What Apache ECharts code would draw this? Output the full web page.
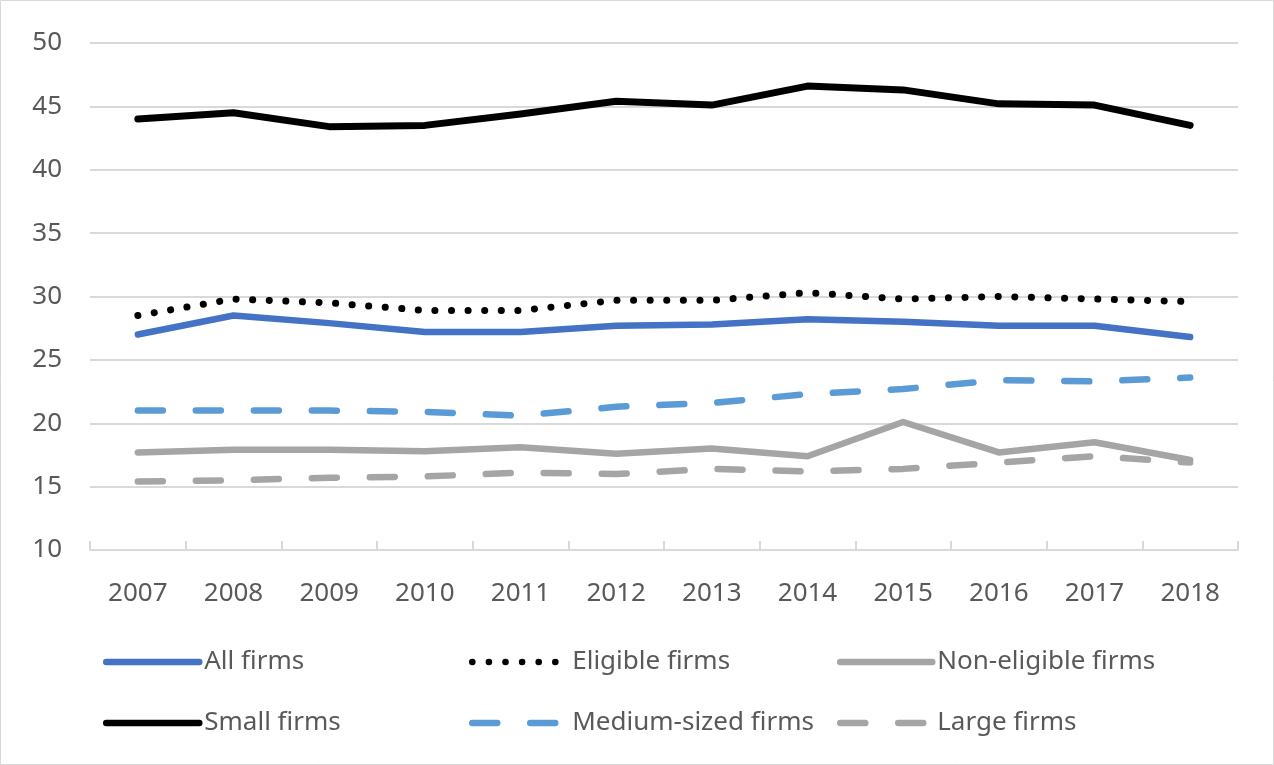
<!DOCTYPE html>
<html>
<head>
<meta charset="utf-8">
<title>Firm shares 2007-2018</title>
<script src="https://cdn.jsdelivr.net/npm/echarts@6/dist/echarts.min.js"></script>
<style>
  html, body { margin: 0; padding: 0; background: #fff; }
  #chart { width: 1274px; height: 765px; }
</style>
</head>
<body>
<div id="chart"></div>
<script>
// Years on the horizontal axis
const years = ['2007', '2008', '2009', '2010', '2011', '2012', '2013', '2014', '2015', '2016', '2017', '2018'];

// Series values by year
const allFirms         = [27.0, 28.5, 27.9, 27.2, 27.2, 27.7, 27.8, 28.2, 28.0, 27.7, 27.7, 26.8];
const eligibleFirms    = [28.5, 29.8, 29.5, 28.9, 28.9, 29.7, 29.7, 30.3, 29.8, 30.0, 29.8, 29.6];
const nonEligibleFirms = [17.7, 17.9, 17.9, 17.8, 18.1, 17.6, 18.0, 17.4, 20.1, 17.7, 18.5, 17.1];
const smallFirms       = [44.0, 44.5, 43.4, 43.5, 44.4, 45.4, 45.1, 46.6, 46.3, 45.2, 45.1, 43.5];
const mediumFirms      = [21.0, 21.0, 21.0, 20.9, 20.6, 21.3, 21.6, 22.3, 22.7, 23.4, 23.3, 23.6];
const largeFirms       = [15.4, 15.5, 15.7, 15.8, 16.1, 16.0, 16.4, 16.2, 16.4, 16.9, 17.4, 16.9];

// Value axis range
const yMin = 10, yMax = 50, yStep = 5;

const FONT = '"Noto Sans", "Open Sans", sans-serif';
const TEXT = '#595959';
const GRID = '#d9d9d9';

function lineSeries(name, data, color, width, dash) {
  return {
    name: name,
    type: 'line',
    data: data,
    symbol: 'none',
    smooth: false,
    animation: false,
    lineStyle: {
      color: color,
      width: width,
      type: dash || 'solid',
      cap: 'round',
      join: 'round'
    },
    itemStyle: { color: color }
  };
}

const DOT = [0.1, 16.5];
const DASH = [25, 33];

const series = [
  lineSeries('All firms', allFirms, '#4472C4', 6.5),
  lineSeries('Eligible firms', eligibleFirms, '#000000', 7, DOT),
  lineSeries('Non-eligible firms', nonEligibleFirms, '#A5A5A5', 6.5),
  lineSeries('Small firms', smallFirms, '#000000', 7),
  lineSeries('Medium-sized firms', mediumFirms, '#5B9BD5', 6.5, DASH),
  lineSeries('Large firms', largeFirms, '#A5A5A5', 6.5, DASH)
];

// One legend block per entry, laid out as a 3 x 2 table
const legendSlots = [
  { name: 'All firms',          left: 103, top: 649, w: 93 },
  { name: 'Eligible firms',     left: 469, top: 649, w: 95 },
  { name: 'Non-eligible firms', left: 837, top: 649, w: 92 },
  { name: 'Small firms',        left: 103, top: 710, w: 93 },
  { name: 'Medium-sized firms', left: 469, top: 710, w: 95 },
  { name: 'Large firms',        left: 837, top: 710, w: 92 }
];

const legends = legendSlots.map(s => ({
  data: [s.name],
  left: s.left,
  top: s.top,
  itemWidth: s.w,
  itemHeight: 14,
  padding: 0,
  selectedMode: false,
  itemStyle: { opacity: 0 },
  lineStyle: { width: 6.5 },
  textStyle: { fontFamily: FONT, fontSize: 26, color: TEXT }
}));

const chart = echarts.init(document.getElementById('chart'), null, { renderer: 'canvas' });

chart.setOption({
  backgroundColor: '#ffffff',
  animation: false,
  grid: { left: 90, right: 36, top: 43, bottom: 215, containLabel: false },
  legend: legends,
  xAxis: {
    type: 'category',
    data: years,
    boundaryGap: true,
    axisLine: { show: true, lineStyle: { color: GRID, width: 2 } },
    axisTick: { show: true, inside: true, length: 9, alignWithLabel: false, lineStyle: { color: GRID, width: 2 } },
    axisLabel: { margin: 31, fontFamily: FONT, fontSize: 26, color: TEXT },
    splitLine: { show: false }
  },
  yAxis: {
    type: 'value',
    min: yMin,
    max: yMax,
    interval: yStep,
    axisLine: { show: false },
    axisTick: { show: false },
    axisLabel: { margin: 28, fontFamily: FONT, fontSize: 26, color: TEXT },
    splitLine: { show: true, lineStyle: { color: GRID, width: 2 } }
  },
  graphic: [{
    type: 'rect',
    shape: { x: 0.5, y: 0.5, width: 1273, height: 764 },
    style: { fill: 'none', stroke: GRID, lineWidth: 1 },
    silent: true,
    z: -1
  }],
  series: series
});
</script>
</body>
</html>
